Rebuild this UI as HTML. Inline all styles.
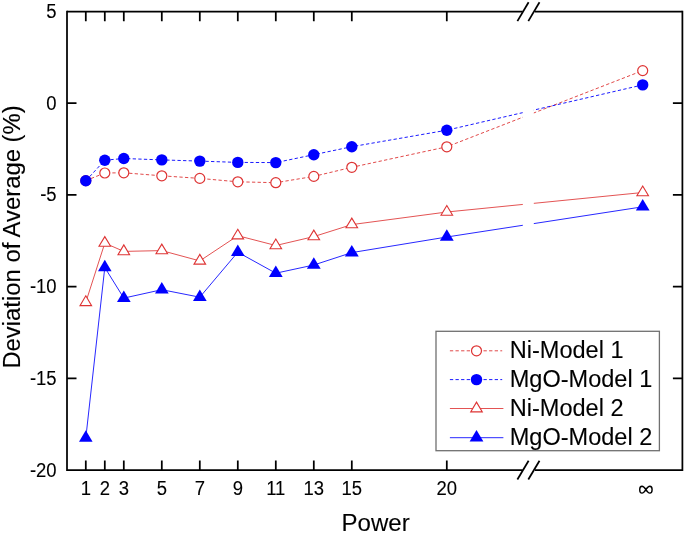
<!DOCTYPE html><html><head><meta charset="utf-8"><style>html,body{margin:0;padding:0;background:#fff}svg{display:block}text{font-family:"Liberation Sans",sans-serif;fill:#000;stroke:#000;stroke-width:0.1px}</style></head><body>
<svg width="685" height="534" viewBox="0 0 685 534">
<rect width="685" height="534" fill="#fff"/>
<path d="M85.8 180.6 L104.8 173.0 L123.8 172.8 L161.8 175.8 L199.8 178.4 L237.8 181.8 L275.8 182.7 L313.8 176.4 L351.8 167.3 L446.8 146.8 L642.7 70.6" fill="none" stroke="#de3434" stroke-width="0.9" stroke-dasharray="3.3 2.3"/>
<path d="M85.8 180.8 L104.8 160.2 L123.8 158.5 L161.8 159.9 L199.8 161.1 L237.8 162.4 L275.8 162.6 L313.8 154.7 L351.8 146.7 L446.8 130.2 L642.7 84.9" fill="none" stroke="#0000ff" stroke-width="0.9" stroke-dasharray="3.3 2.3"/>
<path d="M85.8 302.3 L104.8 243.1 L123.8 251.4 L161.8 250.6 L199.8 260.9 L237.8 235.7 L275.8 245.5 L313.8 236.6 L351.8 224.6 L446.8 212.0 L642.7 192.5" fill="none" stroke="#de3434" stroke-width="0.85"/>
<path d="M85.8 438.0 L104.8 267.5 L123.8 298.1 L161.8 289.7 L199.8 297.2 L237.8 252.2 L275.8 273.2 L313.8 265.0 L351.8 252.6 L446.8 237.0 L642.7 206.8" fill="none" stroke="#0000ff" stroke-width="0.85"/>
<rect x="522.8" y="30" width="11" height="420" fill="#fff"/>
<circle cx="85.8" cy="180.6" r="5.0" fill="#fff" stroke="#de3434" stroke-width="1.2"/>
<circle cx="104.8" cy="173.0" r="5.0" fill="#fff" stroke="#de3434" stroke-width="1.2"/>
<circle cx="123.8" cy="172.8" r="5.0" fill="#fff" stroke="#de3434" stroke-width="1.2"/>
<circle cx="161.8" cy="175.8" r="5.0" fill="#fff" stroke="#de3434" stroke-width="1.2"/>
<circle cx="199.8" cy="178.4" r="5.0" fill="#fff" stroke="#de3434" stroke-width="1.2"/>
<circle cx="237.8" cy="181.8" r="5.0" fill="#fff" stroke="#de3434" stroke-width="1.2"/>
<circle cx="275.8" cy="182.7" r="5.0" fill="#fff" stroke="#de3434" stroke-width="1.2"/>
<circle cx="313.8" cy="176.4" r="5.0" fill="#fff" stroke="#de3434" stroke-width="1.2"/>
<circle cx="351.8" cy="167.3" r="5.0" fill="#fff" stroke="#de3434" stroke-width="1.2"/>
<circle cx="446.8" cy="146.8" r="5.0" fill="#fff" stroke="#de3434" stroke-width="1.2"/>
<circle cx="642.7" cy="70.6" r="5.0" fill="#fff" stroke="#de3434" stroke-width="1.2"/>
<circle cx="85.8" cy="180.8" r="5.7" fill="#0000ff"/>
<circle cx="104.8" cy="160.2" r="5.7" fill="#0000ff"/>
<circle cx="123.8" cy="158.5" r="5.7" fill="#0000ff"/>
<circle cx="161.8" cy="159.9" r="5.7" fill="#0000ff"/>
<circle cx="199.8" cy="161.1" r="5.7" fill="#0000ff"/>
<circle cx="237.8" cy="162.4" r="5.7" fill="#0000ff"/>
<circle cx="275.8" cy="162.6" r="5.7" fill="#0000ff"/>
<circle cx="313.8" cy="154.7" r="5.7" fill="#0000ff"/>
<circle cx="351.8" cy="146.7" r="5.7" fill="#0000ff"/>
<circle cx="446.8" cy="130.2" r="5.7" fill="#0000ff"/>
<circle cx="642.7" cy="84.9" r="5.7" fill="#0000ff"/>
<path d="M85.8 295.8 L91.6 305.6 L80.0 305.6 Z" fill="#fff" stroke="#de3434" stroke-width="1.1" stroke-linejoin="miter"/>
<path d="M104.8 236.6 L110.6 246.3 L99.0 246.3 Z" fill="#fff" stroke="#de3434" stroke-width="1.1" stroke-linejoin="miter"/>
<path d="M123.8 244.9 L129.6 254.7 L118.0 254.7 Z" fill="#fff" stroke="#de3434" stroke-width="1.1" stroke-linejoin="miter"/>
<path d="M161.8 244.1 L167.6 253.8 L156.0 253.8 Z" fill="#fff" stroke="#de3434" stroke-width="1.1" stroke-linejoin="miter"/>
<path d="M199.8 254.4 L205.6 264.1 L194.0 264.1 Z" fill="#fff" stroke="#de3434" stroke-width="1.1" stroke-linejoin="miter"/>
<path d="M237.8 229.2 L243.6 238.9 L232.0 238.9 Z" fill="#fff" stroke="#de3434" stroke-width="1.1" stroke-linejoin="miter"/>
<path d="M275.8 239.0 L281.6 248.8 L270.0 248.8 Z" fill="#fff" stroke="#de3434" stroke-width="1.1" stroke-linejoin="miter"/>
<path d="M313.8 230.1 L319.6 239.8 L308.0 239.8 Z" fill="#fff" stroke="#de3434" stroke-width="1.1" stroke-linejoin="miter"/>
<path d="M351.8 218.1 L357.6 227.8 L346.0 227.8 Z" fill="#fff" stroke="#de3434" stroke-width="1.1" stroke-linejoin="miter"/>
<path d="M446.8 205.5 L452.6 215.2 L441.0 215.2 Z" fill="#fff" stroke="#de3434" stroke-width="1.1" stroke-linejoin="miter"/>
<path d="M642.7 186.0 L648.5 195.8 L636.9 195.8 Z" fill="#fff" stroke="#de3434" stroke-width="1.1" stroke-linejoin="miter"/>
<path d="M85.8 430.3 L92.6 441.8 L79.0 441.8 Z" fill="#0000ff"/>
<path d="M104.8 259.8 L111.6 271.3 L98.0 271.3 Z" fill="#0000ff"/>
<path d="M123.8 290.4 L130.7 301.9 L117.0 301.9 Z" fill="#0000ff"/>
<path d="M161.8 282.0 L168.7 293.5 L155.0 293.5 Z" fill="#0000ff"/>
<path d="M199.8 289.5 L206.7 301.0 L193.0 301.0 Z" fill="#0000ff"/>
<path d="M237.8 244.5 L244.7 256.0 L231.0 256.0 Z" fill="#0000ff"/>
<path d="M275.8 265.5 L282.7 277.0 L268.9 277.0 Z" fill="#0000ff"/>
<path d="M313.8 257.3 L320.7 268.8 L306.9 268.8 Z" fill="#0000ff"/>
<path d="M351.8 244.9 L358.7 256.4 L344.9 256.4 Z" fill="#0000ff"/>
<path d="M446.8 229.3 L453.7 240.8 L439.9 240.8 Z" fill="#0000ff"/>
<path d="M642.7 199.1 L649.6 210.6 L635.9 210.6 Z" fill="#0000ff"/>
<g stroke="#000" stroke-width="1.75" fill="none" stroke-linecap="butt">
<path d="M67.0 10.8 V471.0"/>
<path d="M682.4 10.8 V471.0"/>
<path d="M67.0 11.7 H522.7 M535 11.7 H682.4"/>
<path d="M67.0 470.1 H522.7 M535 470.1 H682.4"/>
<path d="M85.8 11.7 v9.5 M85.8 470.1 v-9.5"/>
<path d="M104.8 11.7 v9.5 M104.8 470.1 v-9.5"/>
<path d="M123.8 11.7 v9.5 M123.8 470.1 v-9.5"/>
<path d="M161.8 11.7 v9.5 M161.8 470.1 v-9.5"/>
<path d="M199.8 11.7 v9.5 M199.8 470.1 v-9.5"/>
<path d="M237.8 11.7 v9.5 M237.8 470.1 v-9.5"/>
<path d="M275.8 11.7 v9.5 M275.8 470.1 v-9.5"/>
<path d="M313.8 11.7 v9.5 M313.8 470.1 v-9.5"/>
<path d="M351.8 11.7 v9.5 M351.8 470.1 v-9.5"/>
<path d="M446.8 11.7 v9.5 M446.8 470.1 v-9.5"/>
<path d="M67.0 103.0 h9.5 M682.4 103.0 h-9.5"/>
<path d="M67.0 194.8 h9.5 M682.4 194.8 h-9.5"/>
<path d="M67.0 286.6 h9.5 M682.4 286.6 h-9.5"/>
<path d="M67.0 378.4 h9.5 M682.4 378.4 h-9.5"/>
<path d="M517.4 21.1 L528.6 2.3"/>
<path d="M528.3 21.1 L539.5 2.3"/>
<path d="M517.4 479.5 L528.6 460.7"/>
<path d="M528.3 479.5 L539.5 460.7"/>
</g>
<g style="filter:grayscale(1)">
<text transform="translate(85.8 495) scale(1 1.045)" font-size="18.5" text-anchor="middle">1</text>
<text transform="translate(104.8 495) scale(1 1.045)" font-size="18.5" text-anchor="middle">2</text>
<text transform="translate(123.8 495) scale(1 1.045)" font-size="18.5" text-anchor="middle">3</text>
<text transform="translate(161.8 495) scale(1 1.045)" font-size="18.5" text-anchor="middle">5</text>
<text transform="translate(199.8 495) scale(1 1.045)" font-size="18.5" text-anchor="middle">7</text>
<text transform="translate(237.8 495) scale(1 1.045)" font-size="18.5" text-anchor="middle">9</text>
<text transform="translate(275.8 495) scale(1 1.045)" font-size="18.5" text-anchor="middle">11</text>
<text transform="translate(313.8 495) scale(1 1.045)" font-size="18.5" text-anchor="middle">13</text>
<text transform="translate(351.8 495) scale(1 1.045)" font-size="18.5" text-anchor="middle">15</text>
<text transform="translate(446.8 495) scale(1 1.045)" font-size="18.5" text-anchor="middle">20</text>
<path transform="translate(645.9 489.7)" d="M0 0C1.2 -1.9 2.4 -3.4 3.9 -3.4C5.4 -3.4 6.2 -1.9 6.2 0C6.2 1.9 5.4 3.4 3.9 3.4C2.4 3.4 1.2 1.9 0 0C-1.2 -1.9 -2.4 -3.4 -3.9 -3.4C-5.4 -3.4 -6.2 -1.9 -6.2 0C-6.2 1.9 -5.4 3.4 -3.9 3.4C-2.4 3.4 -1.2 1.9 0 0Z" fill="none" stroke="#000" stroke-width="1.4"/>
<text transform="translate(56.6 17.7) scale(1 1.045)" font-size="18.5" text-anchor="end">5</text>
<text transform="translate(56.6 109.5) scale(1 1.045)" font-size="18.5" text-anchor="end">0</text>
<text transform="translate(56.6 201.3) scale(1 1.045)" font-size="18.5" text-anchor="end">-5</text>
<text transform="translate(56.6 293.1) scale(1 1.045)" font-size="18.5" text-anchor="end">-10</text>
<text transform="translate(56.6 384.9) scale(1 1.045)" font-size="18.5" text-anchor="end">-15</text>
<text transform="translate(56.6 476.7) scale(1 1.045)" font-size="18.5" text-anchor="end">-20</text>
<text transform="translate(375.6 530.9) scale(1.012 1.025)" font-size="23.8" text-anchor="middle">Power</text>
<text transform="translate(20.3 237.0) rotate(-90) scale(1.002 1.025)" font-size="23.8" text-anchor="middle">Deviation of Average (%)</text>
</g>
<rect x="436" y="331.3" width="223.4" height="119.4" fill="#fff" stroke="#707070" stroke-width="1.3"/>
<path d="M449.9 350.8 L502.2 350.8" fill="none" stroke="#de3434" stroke-width="0.9" stroke-dasharray="3.3 2.3"/>
<circle cx="476.5" cy="350.8" r="5.0" fill="#fff" stroke="#de3434" stroke-width="1.2"/>
<text style="filter:grayscale(1)" transform="translate(509.7 357.7) scale(1 1.04)" font-size="23.55">Ni-Model 1</text>
<path d="M449.9 379.6 L502.2 379.6" fill="none" stroke="#0000ff" stroke-width="0.9" stroke-dasharray="3.3 2.3"/>
<circle cx="476.5" cy="379.6" r="5.7" fill="#0000ff"/>
<text style="filter:grayscale(1)" transform="translate(509.7 386.9) scale(1 1.04)" font-size="23.55">MgO-Model 1</text>
<path d="M449.9 408.5 L503.4 408.5" fill="none" stroke="#de3434" stroke-width="0.85"/>
<path d="M476.5 402.1 L482.3 411.9 L470.7 411.9 Z" fill="#fff" stroke="#de3434" stroke-width="1.1" stroke-linejoin="miter"/>
<text style="filter:grayscale(1)" transform="translate(509.7 416.1) scale(1 1.04)" font-size="23.55">Ni-Model 2</text>
<path d="M449.9 437.7 L503.4 437.7" fill="none" stroke="#0000ff" stroke-width="0.85"/>
<path d="M476.5 430.1 L483.4 441.6 L469.6 441.6 Z" fill="#0000ff"/>
<text style="filter:grayscale(1)" transform="translate(509.7 445.3) scale(1 1.04)" font-size="23.55">MgO-Model 2</text>
</svg></body></html>
